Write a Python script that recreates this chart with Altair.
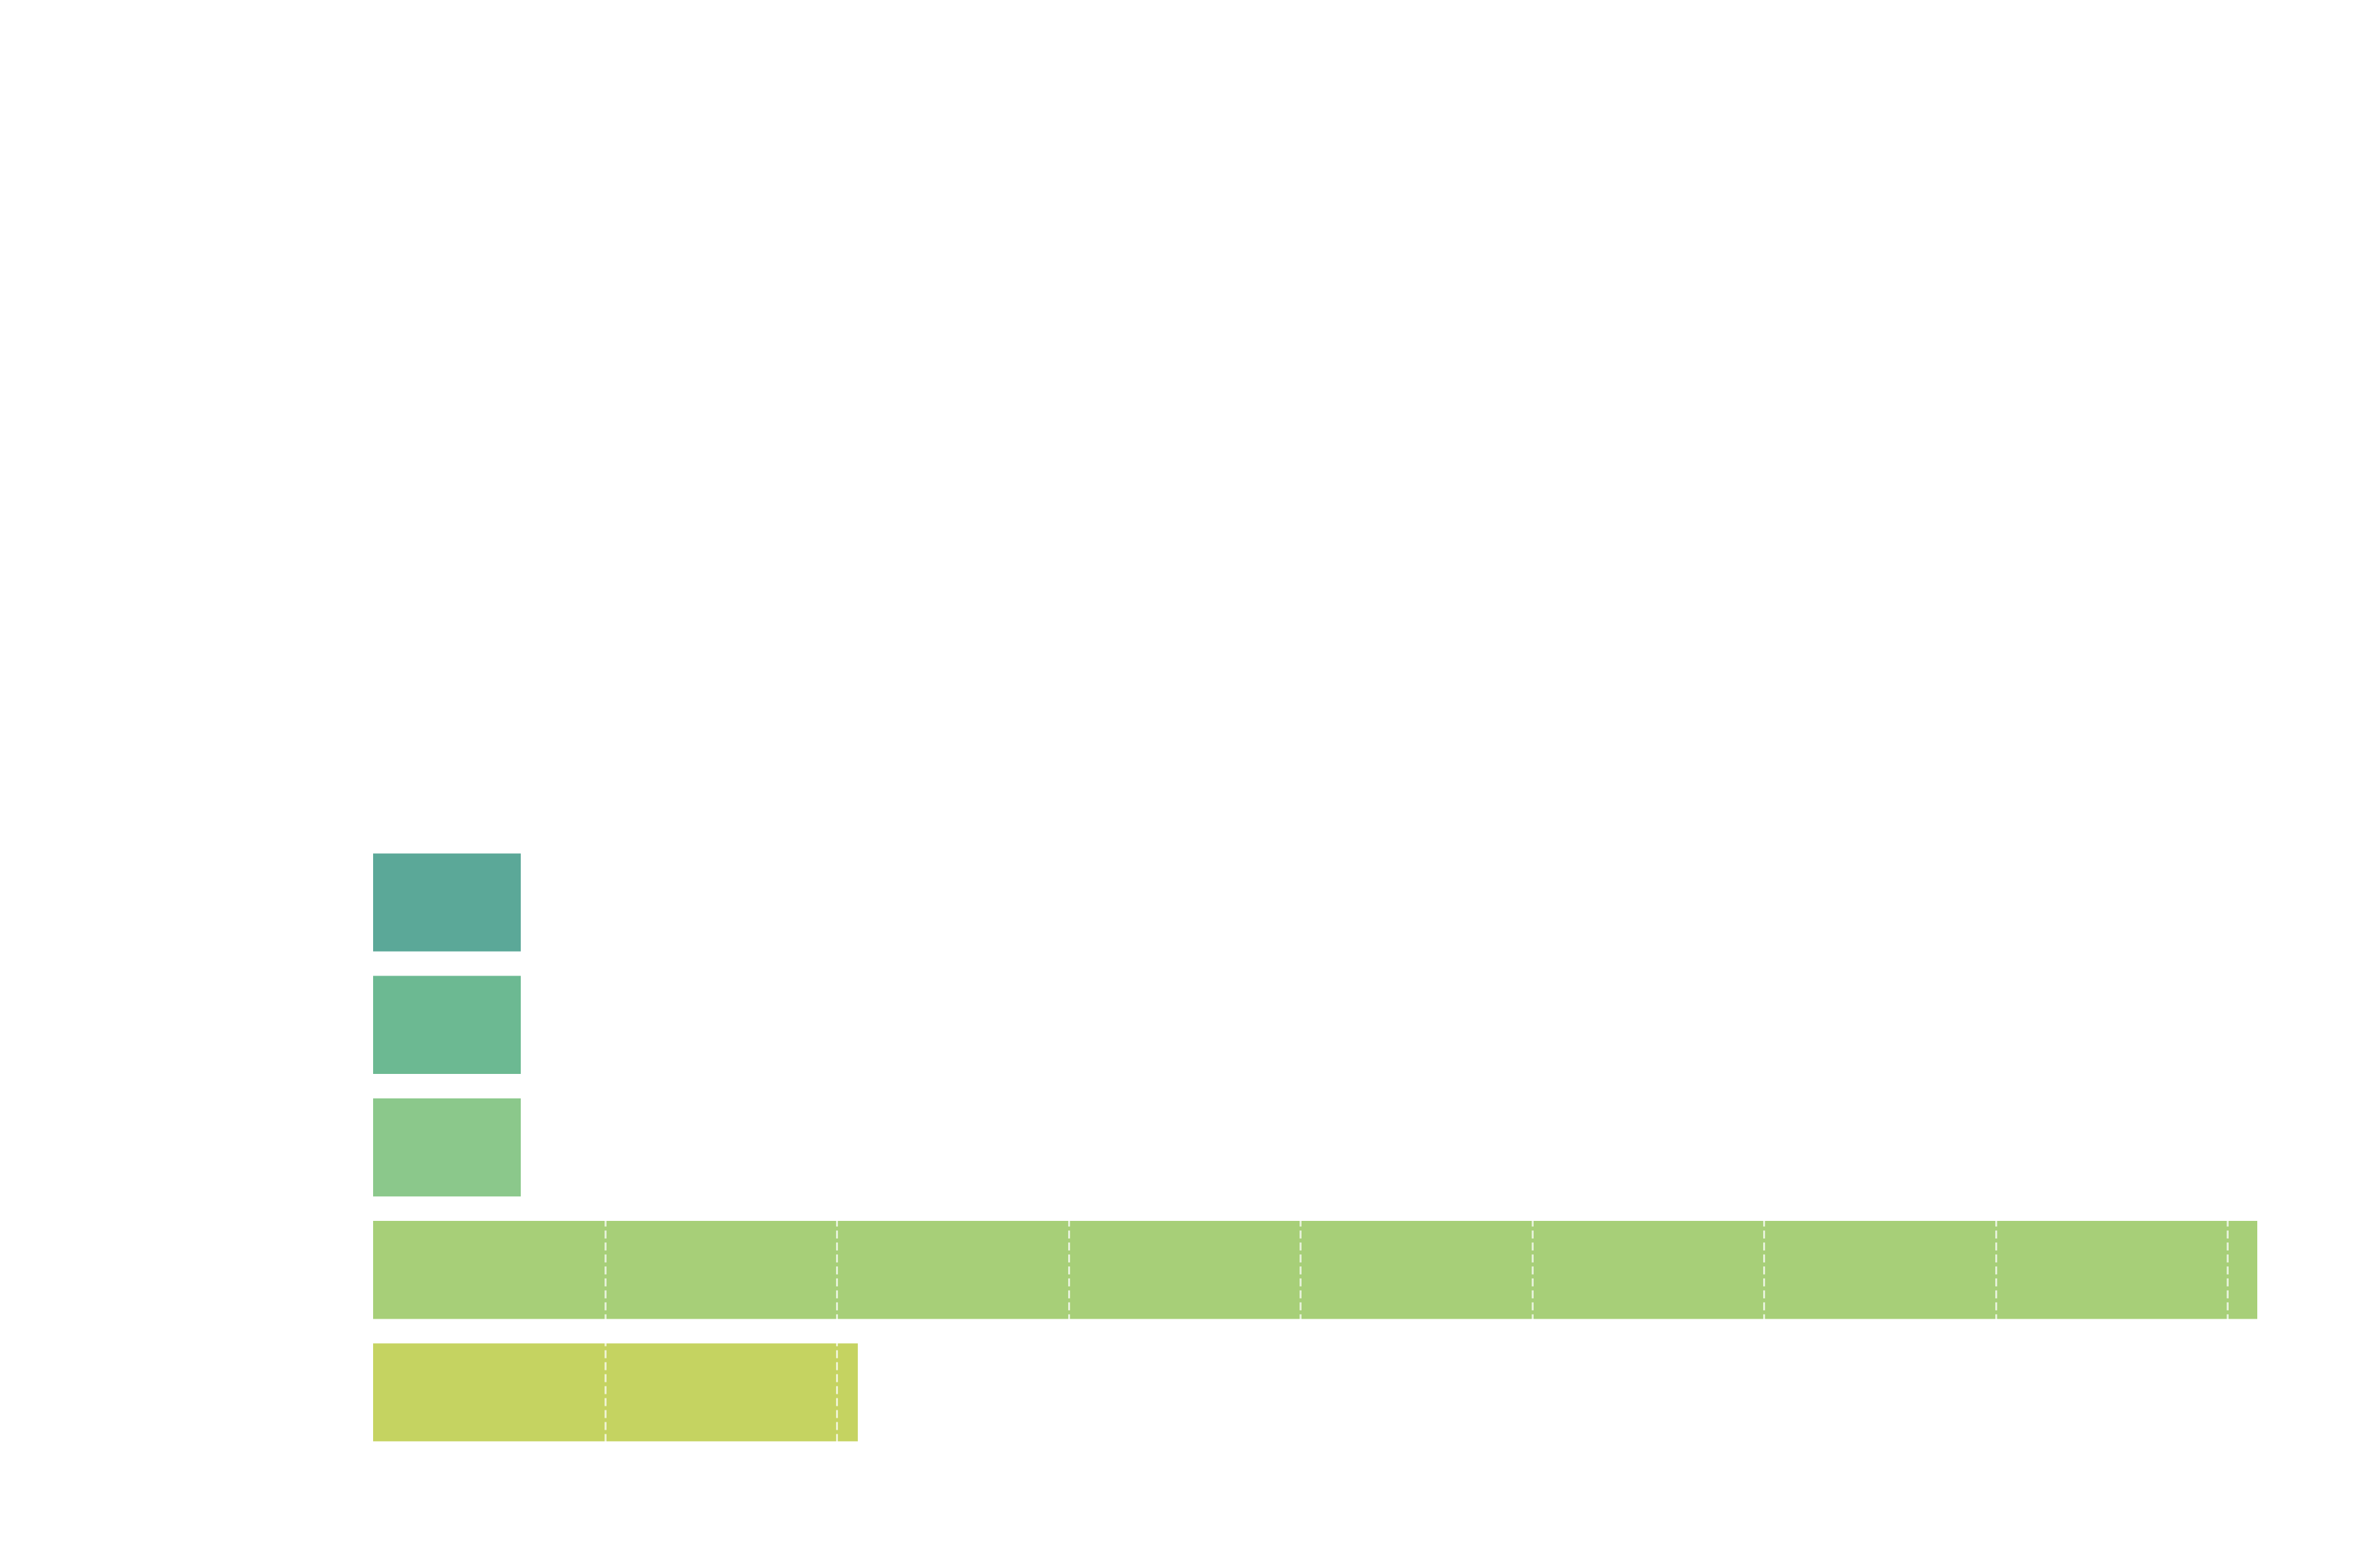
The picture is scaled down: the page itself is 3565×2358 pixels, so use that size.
import altair as alt
import pandas as pd

categories = ["A", "B", "C", "D", "E"]
values = [0.637, 0.637, 0.637, 8.128, 2.091]
colors = ["#5ba898", "#6cb992", "#8bc88b", "#a7cf78", "#c5d361"]
grid_ticks = [1, 2, 3, 4, 5, 6, 7, 8]

df = pd.DataFrame({"category": categories, "value": values})

chart = (
    alt.Chart(df)
    .mark_bar()
    .encode(
        y=alt.Y(
            "category:N",
            sort=categories,
            scale=alt.Scale(paddingInner=0.2, paddingOuter=0.1),
            axis=None,
        ),
        x=alt.X(
            "value:Q",
            scale=alt.Scale(domain=[0, 8.128], nice=False, zero=True),
            axis=alt.Axis(
                values=grid_ticks,
                labels=False,
                ticks=False,
                domain=False,
                title=None,
                grid=True,
                gridColor="white",
                gridOpacity=0.7,
                gridWidth=3,
                gridDash=[12, 6],
                zindex=1,
            ),
        ),
        color=alt.Color(
            "category:N",
            scale=alt.Scale(domain=categories, range=colors),
            legend=None,
        ),
    )
    .properties(
        width=2833,
        height=921,
        autosize=alt.AutoSizeParams(type="none"),
        padding={"left": 561, "top": 1265, "right": 171, "bottom": 172},
        background="white",
    )
    .configure_view(stroke=None)
)

chart.save("out.html", embed_options={"renderer": "svg", "actions": False})
